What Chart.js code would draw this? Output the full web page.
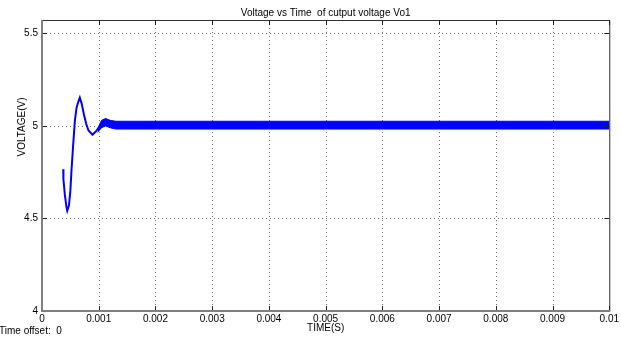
<!DOCTYPE html>
<html>
<head>
<meta charset="utf-8">
<script src="https://cdn.jsdelivr.net/npm/chart.js@4.4.1/dist/chart.umd.min.js"></script>
<style>
  html, body { margin: 0; padding: 0; background: #fff; }
  #wrap { width: 621px; height: 339px; }
</style>
</head>
<body>
<div id="wrap"><canvas id="voltChart" width="621" height="339"></canvas></div>
<script>
// transient part of Vo1
const transientTime = [0.000374, 0.000378, 0.000403, 0.000432, 0.000445, 0.000475, 0.0005, 0.00052,
  0.00055, 0.00058, 0.00061, 0.00064, 0.000667, 0.0007, 0.00074, 0.00078, 0.00082, 0.00089, 0.00095, 0.001];
const transientVolt = [4.766, 4.71, 4.627, 4.56, 4.542, 4.57, 4.65, 4.76,
  4.90, 5.03, 5.10, 5.13, 5.153, 5.12, 5.06, 5.01, 4.975, 4.952, 4.97, 4.99];

// steady state ripple band (upper / lower envelope)
const bandTime = [0.00098, 0.00105, 0.00112, 0.0012, 0.0013, 0.0015, 0.01];
const bandUpper = [4.985, 5.03, 5.04, 5.03, 5.025, 5.025, 5.025];
const bandLower = [4.965, 4.99, 5.0, 4.99, 4.983, 4.983, 4.983];

const xTicks = [0, 0.001, 0.002, 0.003, 0.004, 0.005, 0.006, 0.007, 0.008, 0.009, 0.01];
const xTickLabels = ["0", "0.001", "0.002", "0.003", "0.004", "0.005", "0.006", "0.007", "0.008", "0.009", "0.01"];
const yTicks = [4, 4.5, 5, 5.5];
const yTickLabels = ["4", "4.5", "5", "5.5"];

const FONT = '"Liberation Sans", Arial, sans-serif';
const BLUE = "#0000ff";

function pts(xs, ys) {
  return xs.map((x, i) => ({ x: x, y: ys[i] }));
}

// grid, frame, inward ticks and the texts, matlab style
const matlabFrame = {
  id: "matlabFrame",
  beforeDatasetsDraw(chart) {
    const { ctx, chartArea: a, scales } = chart;
    ctx.save();
    ctx.strokeStyle = "#707070";
    ctx.lineWidth = 1;
    ctx.setLineDash([1, 3]);
    xTicks.slice(1, -1).forEach(v => {
      const x = Math.round(scales.x.getPixelForValue(v)) + 0.5;
      ctx.beginPath();
      ctx.moveTo(x, a.top);
      ctx.lineTo(x, a.bottom);
      ctx.stroke();
    });
    yTicks.slice(1).forEach(v => {
      const y = Math.round(scales.y.getPixelForValue(v)) + 0.5;
      ctx.beginPath();
      ctx.moveTo(a.left, y);
      ctx.lineTo(a.right, y);
      ctx.stroke();
    });
    ctx.restore();
  },
  afterDatasetsDraw(chart) {
    const { ctx, chartArea: a, scales } = chart;
    ctx.save();
    // top + right
    ctx.strokeStyle = "#303030";
    ctx.lineWidth = 1;
    ctx.beginPath();
    ctx.moveTo(a.left, a.top + 0.5);
    ctx.lineTo(a.right + 0.5, a.top + 0.5);
    ctx.lineTo(a.right + 0.5, a.bottom);
    ctx.stroke();
    // ticks
    ctx.strokeStyle = "#202020";
    xTicks.forEach(v => {
      const x = Math.round(scales.x.getPixelForValue(v)) + 0.5;
      ctx.beginPath();
      ctx.moveTo(x, a.bottom); ctx.lineTo(x, a.bottom - 5);
      ctx.moveTo(x, a.top); ctx.lineTo(x, a.top + 5);
      ctx.stroke();
    });
    yTicks.forEach(v => {
      const y = Math.round(scales.y.getPixelForValue(v)) + 0.5;
      ctx.beginPath();
      ctx.moveTo(a.left, y); ctx.lineTo(a.left + 5, y);
      ctx.moveTo(a.right, y); ctx.lineTo(a.right - 5, y);
      ctx.stroke();
    });
    // left + bottom axes, thicker grey
    ctx.strokeStyle = "#808080";
    ctx.lineWidth = 2;
    ctx.beginPath();
    ctx.moveTo(a.left, a.top);
    ctx.lineTo(a.left, a.bottom);
    ctx.lineTo(a.right + 1, a.bottom);
    ctx.stroke();
    ctx.restore();
  },
  afterDraw(chart) {
    const { ctx, chartArea: a } = chart;
    const cx = (a.left + a.right) / 2;
    ctx.save();
    ctx.fillStyle = "#000";
    ctx.font = "10px " + FONT;
    ctx.textBaseline = "middle";
    ctx.textAlign = "center";
    ctx.fillText("Voltage vs Time  of cutput voltage Vo1", cx, 13);
    ctx.fillText("TIME(S)", cx, 328);
    ctx.textAlign = "left";
    ctx.fillText("Time offset:  0", -1, 331);
    ctx.translate(22, 127);
    ctx.rotate(-Math.PI / 2);
    ctx.textAlign = "center";
    ctx.fillText("VOLTAGE(V)", 0, 0);
    ctx.restore();
  }
};

new Chart(document.getElementById("voltChart"), {
  type: "line",
  data: {
    datasets: [
      {
        data: pts(transientTime, transientVolt),
        borderColor: BLUE,
        borderWidth: 2,
        pointRadius: 0,
        fill: false
      },
      {
        data: pts(bandTime, bandUpper),
        borderColor: BLUE,
        borderWidth: 1,
        pointRadius: 0,
        fill: false
      },
      {
        data: pts(bandTime, bandLower),
        borderColor: BLUE,
        backgroundColor: BLUE,
        borderWidth: 1,
        pointRadius: 0,
        fill: "-1"
      }
    ]
  },
  options: {
    responsive: false,
    animation: false,
    devicePixelRatio: 1,
    layout: { padding: { top: 20, right: 9, left: 0, bottom: 0 } },
    plugins: {
      legend: { display: false },
      tooltip: { enabled: false },
      title: { display: false }
    },
    scales: {
      x: {
        type: "linear",
        min: 0,
        max: 0.01,
        grid: { display: false, drawTicks: false },
        border: { display: false },
        afterBuildTicks: s => { s.ticks = xTicks.map(v => ({ value: v })); },
        afterFit: s => { s.height = 28; },
        ticks: {
          color: "#000",
          font: { family: FONT, size: 10 },
          padding: 2,
          maxRotation: 0,
          autoSkip: false,
          callback: v => {
            const i = xTicks.indexOf(v);
            return i >= 0 ? xTickLabels[i] : "";
          }
        }
      },
      y: {
        min: 4,
        max: 5.572,
        grid: { display: false, drawTicks: false },
        border: { display: false },
        afterBuildTicks: s => { s.ticks = yTicks.map(v => ({ value: v })); },
        afterFit: s => { s.width = 42; },
        ticks: {
          color: "#000",
          font: { family: FONT, size: 10 },
          padding: 4,
          autoSkip: false,
          callback: v => {
            const i = yTicks.indexOf(v);
            return i >= 0 ? yTickLabels[i] : "";
          }
        }
      }
    }
  },
  plugins: [matlabFrame]
});
</script>
</body>
</html>
